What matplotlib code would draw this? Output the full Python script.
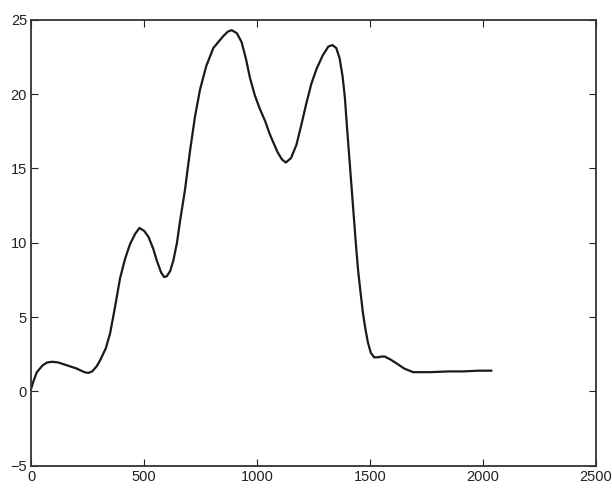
import matplotlib
matplotlib.use("Agg")
import matplotlib.pyplot as plt

# values
x = [0, 10, 25, 50, 70, 94, 120, 150, 200, 235, 253, 270, 290, 305, 330, 349,
     370, 393, 415, 437, 460, 479, 500, 519, 540, 556, 575, 588, 600, 615, 629,
     645, 659, 680, 703, 725, 747, 775, 806, 850, 870, 887, 910, 931, 950, 968,
     990, 1012, 1035, 1056, 1090, 1110, 1127, 1150, 1174, 1195, 1218, 1240,
     1263, 1290, 1315, 1333, 1350, 1365, 1378, 1388, 1397, 1407, 1417, 1427,
     1437, 1447, 1458, 1468, 1478, 1490, 1503, 1518, 1535, 1550, 1565, 1590,
     1616, 1650, 1690, 1764, 1850, 1911, 1980, 2036]
y = [0.2, 0.7, 1.3, 1.75, 1.95, 2.0, 1.95, 1.8, 1.55, 1.3, 1.25, 1.35, 1.7,
     2.1, 2.9, 3.9, 5.6, 7.6, 8.9, 9.9, 10.6, 11.0, 10.8, 10.4, 9.6, 8.8, 8.0,
     7.7, 7.75, 8.1, 8.8, 10.0, 11.5, 13.5, 16.2, 18.5, 20.3, 21.9, 23.1, 23.9,
     24.2, 24.3, 24.1, 23.5, 22.4, 21.1, 19.9, 19.0, 18.2, 17.3, 16.1, 15.6,
     15.4, 15.7, 16.6, 17.9, 19.4, 20.7, 21.7, 22.6, 23.2, 23.3, 23.1, 22.4,
     21.2, 19.8, 17.9, 15.9, 13.9, 11.9, 9.9, 8.1, 6.6, 5.3, 4.3, 3.3, 2.6,
     2.3, 2.3, 2.35, 2.35, 2.15, 1.9, 1.55, 1.3, 1.3, 1.35, 1.35, 1.4, 1.4]

xticks = [0, 500, 1000, 1500, 2000, 2500]
yticks = [-5, 0, 5, 10, 15, 20, 25]

plt.rcParams['font.family'] = ['Liberation Sans', 'DejaVu Sans']

fig = plt.figure(figsize=(6.12, 4.94), dpi=100)
ax = fig.add_axes([0.051, 0.057, 0.923, 0.903])
ax.plot(x, y, color='#1a1a1a', linewidth=1.6)

ax.set_xlim(0, 2500)
ax.set_ylim(-5, 25)
ax.set_xticks(xticks)
ax.set_yticks(yticks)
ax.tick_params(direction='in', top=True, right=True, length=5,
               labelsize=10.5, colors='#222222', pad=3)
for s in ax.spines.values():
    s.set_linewidth(1.3)
    s.set_color('#333333')

fig.savefig('out.png', dpi=100)
